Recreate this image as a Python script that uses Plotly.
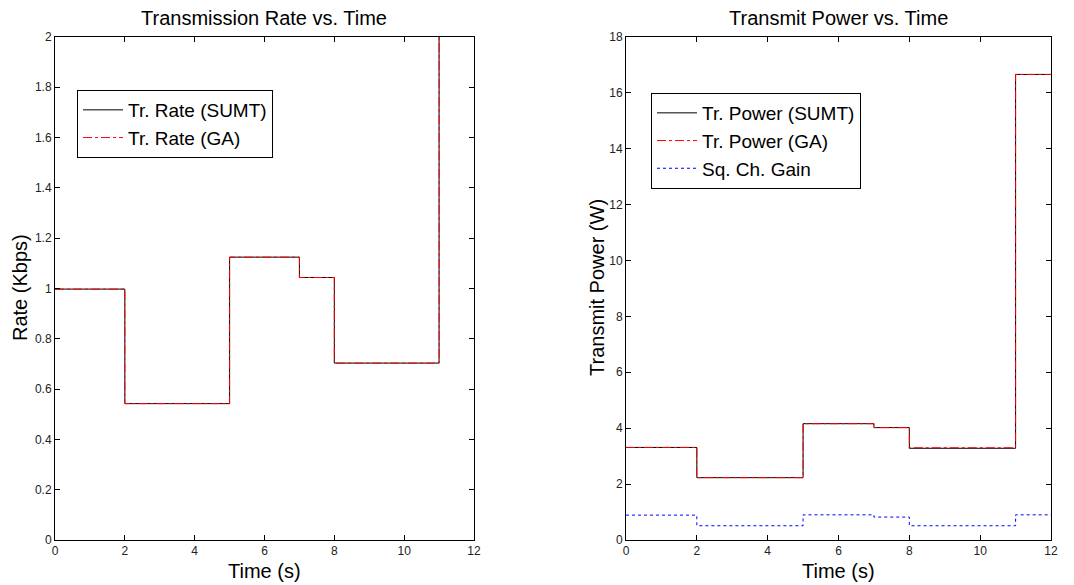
import plotly.graph_objects as go

# Data
time_edges = [0, 2, 5, 7, 8, 11, 12]
rate_sumt = [0.997, 0.542, 1.124, 1.043, 0.703, 2.6, 2.6]
rate_ga = [0.997, 0.542, 1.124, 1.043, 0.703, 2.6, 2.6]
power_sumt = [3.31, 2.23, 4.16, 4.02, 3.28, 16.65, 16.65]
power_ga = [3.31, 2.23, 4.16, 4.02, 3.30, 16.65, 16.65]
sq_gain = [0.89, 0.51, 0.90, 0.82, 0.51, 0.90, 0.90]

W, H = 1074, 585
FONT = "Liberation Sans, Arial, Helvetica, sans-serif"

def px_x(p):
    return p / W

def px_y(p):
    return 1 - p / H

fig = go.Figure()

# left chart
fig.add_trace(go.Scatter(x=time_edges, y=rate_sumt, mode="lines", line_shape="hv",
                         line=dict(color="black", width=1), name="Tr. Rate (SUMT)",
                         xaxis="x", yaxis="y", legend="legend"))
fig.add_trace(go.Scatter(x=time_edges, y=rate_ga, mode="lines", line_shape="hv",
                         line=dict(color="red", width=1, dash="dashdot"), name="Tr. Rate (GA)",
                         xaxis="x", yaxis="y", legend="legend"))
# right chart
fig.add_trace(go.Scatter(x=time_edges, y=power_sumt, mode="lines", line_shape="hv",
                         line=dict(color="black", width=1), name="Tr. Power (SUMT)",
                         xaxis="x2", yaxis="y2", legend="legend2"))
fig.add_trace(go.Scatter(x=time_edges, y=power_ga, mode="lines", line_shape="hv",
                         line=dict(color="red", width=1, dash="dashdot"), name="Tr. Power (GA)",
                         xaxis="x2", yaxis="y2", legend="legend2"))
fig.add_trace(go.Scatter(x=time_edges, y=sq_gain, mode="lines", line_shape="hv",
                         line=dict(color="blue", width=1, dash="dot"), name="Sq. Ch. Gain",
                         xaxis="x2", yaxis="y2", legend="legend2"))

axis_common = dict(showline=True, linecolor="black", linewidth=1, mirror="allticks",
                   ticks="inside", ticklen=5, tickcolor="black", showgrid=False, zeroline=False,
                   automargin=False,
                   tickfont=dict(family=FONT, size=12, color="#222"))

ydom = [px_y(540), px_y(36.7)]
legend_common = dict(xanchor="left", yanchor="top",
                     bgcolor="white", bordercolor="black", borderwidth=1,
                     font=dict(family=FONT, size=19, color="black"), tracegroupgap=0,
                     itemwidth=40)
fig.update_layout(
    width=W, height=H, margin=dict(l=0, r=0, t=0, b=0, autoexpand=False),
    paper_bgcolor="white", plot_bgcolor="white",
    font=dict(family=FONT),
    xaxis=dict(domain=[px_x(55), px_x(474)], range=[0, 12], dtick=2, anchor="y", **axis_common),
    yaxis=dict(domain=ydom, range=[0, 2], dtick=0.2, anchor="x", **axis_common),
    xaxis2=dict(domain=[px_x(626), px_x(1051)], range=[0, 12], dtick=2, anchor="y2", **axis_common),
    yaxis2=dict(domain=ydom, range=[0, 18], dtick=2, anchor="x2", **axis_common),
    legend=dict(x=px_x(77), y=px_y(90), **legend_common),
    legend2=dict(x=px_x(651), y=px_y(93), **legend_common),
    showlegend=True,
)

annotations = [
    dict(text="Transmission Rate vs. Time", x=px_x(264), y=px_y(18), size=20),
    dict(text="Transmit Power vs. Time", x=px_x(838), y=px_y(18), size=20),
    dict(text="Time (s)", x=px_x(264), y=px_y(571), size=20),
    dict(text="Time (s)", x=px_x(838), y=px_y(571), size=20),
]
for a in annotations:
    fig.add_annotation(text=a["text"], x=a["x"], y=a["y"], xref="paper", yref="paper",
                       showarrow=False, xanchor="center", yanchor="middle",
                       font=dict(family=FONT, size=a["size"], color="black"))
fig.add_annotation(text="Rate (Kbps)", x=px_x(20), y=px_y(288), xref="paper", yref="paper",
                   showarrow=False, textangle=-90, xanchor="center", yanchor="middle",
                   font=dict(family=FONT, size=20, color="black"))
fig.add_annotation(text="Transmit Power (W)", x=px_x(597), y=px_y(288), xref="paper", yref="paper",
                   showarrow=False, textangle=-90, xanchor="center", yanchor="middle",
                   font=dict(family=FONT, size=20, color="black"))

fig.write_html("out.html")
